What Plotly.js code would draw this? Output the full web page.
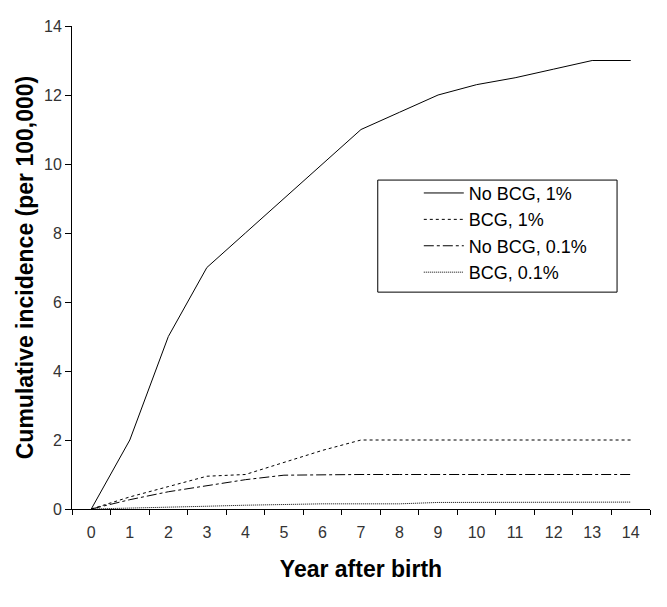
<!DOCTYPE html>
<html>
<head>
<meta charset="utf-8">
<script src="https://cdn.plot.ly/plotly-3.0.1.min.js"></script>
<style>
  html, body { margin: 0; padding: 0; background: #fff; }
  #chart { width: 667px; height: 607px; }
</style>
</head>
<body>
<div id="chart"></div>
<script>
// years after birth
var years = ['0', '1', '2', '3', '4', '5', '6', '7', '8', '9', '10', '11', '12', '13', '14'];

// cumulative incidence per 100,000
var noBcg1 = [0, 2, 5, 7, 8, 9, 10, 11, 11.5, 12, 12.3, 12.5, 12.75, 13, 13];
var bcg1 = [0, 0.35, 0.65, 0.95, 1.0, 1.35, 1.7, 2, 2, 2, 2, 2, 2, 2, 2];
var noBcg01 = [0, 0.27, 0.5, 0.68, 0.85, 0.98, 1, 1, 1, 1, 1, 1, 1, 1, 1];
var bcg01 = [0, 0.02, 0.05, 0.08, 0.11, 0.14, 0.15, 0.15, 0.15, 0.19, 0.19, 0.2, 0.2, 0.2, 0.2];

var names = ['No BCG, 1%', 'BCG, 1%', 'No BCG, 0.1%', 'BCG, 0.1%'];
var series = [noBcg1, bcg1, noBcg01, bcg01];
var dashes = ['solid', '3px,3px', '10px,3px,3px,3px', '1px,1px'];

var data = series.map(function (vals, i) {
  return {
    x: years,
    y: vals,
    type: 'scatter',
    mode: 'lines',
    name: names[i],
    line: { color: '#000', width: 1, dash: dashes[i] }
  };
});

var layout = {
  width: 667,
  height: 607,
  margin: { l: 72, r: 17, t: 26, b: 98 },
  paper_bgcolor: '#fff',
  plot_bgcolor: '#fff',
  font: { family: 'Liberation Sans, Arial, sans-serif', color: '#000' },
  showlegend: true,
  legend: {
    x: 0.60, y: 0.692, xanchor: 'left', yanchor: 'top',
    borderwidth: 0,
    bgcolor: 'rgba(0,0,0,0)',
    itemwidth: 40,
    font: { size: 18, color: '#000' },
    tracegroupgap: 0
  },
  // legend frame
  shapes: [{
    type: 'rect', xref: 'paper', yref: 'paper',
    x0: 0.529, x1: 0.943, y0: 0.449, y1: 0.681,
    line: { color: '#000', width: 1 }, fillcolor: 'rgba(0,0,0,0)'
  }],
  xaxis: {
    type: 'category',
    range: [-0.5, 14.5],
    tickson: 'boundaries',
    ticks: 'outside',
    ticklen: 5,
    tickcolor: '#000',
    ticklabelstandoff: 9,
    showline: true,
    linecolor: '#000',
    showgrid: false,
    zeroline: false,
    tickfont: { size: 16, color: '#333' },
    title: { text: 'Year after birth', font: { size: 23, color: '#000', weight: 'bold' }, standoff: 20 }
  },
  yaxis: {
    range: [0, 14],
    dtick: 2,
    ticks: 'outside',
    ticklen: 6,
    tickcolor: '#000',
    showline: true,
    linecolor: '#000',
    showgrid: false,
    zeroline: false,
    tickfont: { size: 16, color: '#333' },
    title: { text: 'Cumulative incidence (per 100,000)', font: { size: 23, color: '#000', weight: 'bold' }, standoff: 3 }
  }
};

Plotly.newPlot('chart', data, layout, { displayModeBar: false, staticPlot: true });
</script>
</body>
</html>
